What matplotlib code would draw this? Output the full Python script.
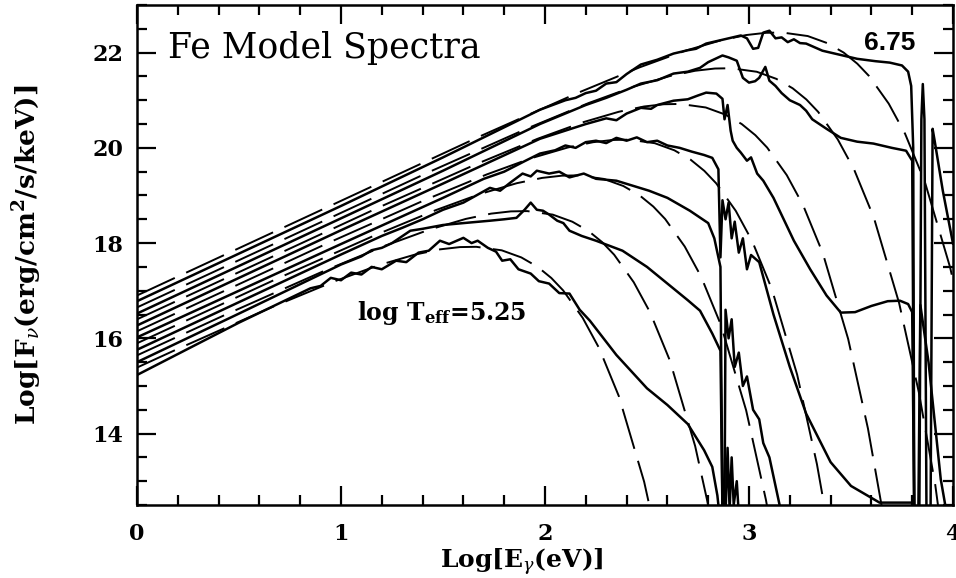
import numpy as np
import matplotlib
matplotlib.use('Agg')
import matplotlib.pyplot as plt
from matplotlib.ticker import MultipleLocator

# blackbody curves (dashed), log T = 5.25 ... 6.75
bb_525 = np.array([(0, 15.386), (0.185, 15.749), (0.663, 16.658), (0.964, 17.191), (1.185, 17.536),
                   (1.362, 17.758), (1.486, 17.869), (1.583, 17.916), (1.663, 17.922), (1.788, 17.848),
                   (1.884, 17.699), (1.964, 17.501), (2.031, 17.267), (2.089, 17.006), (2.185, 16.428),
                   (2.265, 15.797), (2.362, 14.785), (2.486, 12.988), (2.583, 11.108)])
bb_550 = np.array([(0, 15.642), (0.435, 16.499), (0.913, 17.408), (1.214, 17.941), (1.435, 18.286),
                   (1.612, 18.508), (1.736, 18.619), (1.833, 18.666), (1.913, 18.672), (2.038, 18.598),
                   (2.134, 18.449), (2.214, 18.251), (2.281, 18.017), (2.339, 17.756), (2.435, 17.178),
                   (2.515, 16.547), (2.612, 15.535), (2.736, 13.738), (2.833, 11.858)])
bb_575 = np.array([(0, 15.896), (0.685, 17.249), (1.163, 18.158), (1.464, 18.691), (1.685, 19.036),
                   (1.862, 19.258), (1.986, 19.369), (2.083, 19.416), (2.163, 19.422), (2.288, 19.348),
                   (2.384, 19.199), (2.464, 19.001), (2.531, 18.767), (2.589, 18.506), (2.685, 17.928),
                   (2.765, 17.297), (2.862, 16.285), (2.986, 14.488), (3.083, 12.608), (3.163, 10.673)])
bb_600 = np.array([(0, 16.148), (0.935, 17.999), (1.413, 18.908), (1.714, 19.441), (1.935, 19.786),
                   (2.112, 20.008), (2.236, 20.119), (2.333, 20.166), (2.413, 20.172), (2.538, 20.098),
                   (2.634, 19.949), (2.714, 19.751), (2.781, 19.517), (2.839, 19.256), (2.935, 18.678),
                   (3.015, 18.047), (3.112, 17.035), (3.236, 15.238), (3.333, 13.358), (3.413, 11.423)])
bb_625 = np.array([(0, 16.399), (1.185, 18.749), (1.663, 19.658), (1.964, 20.191), (2.185, 20.536),
                   (2.362, 20.758), (2.486, 20.869), (2.583, 20.916), (2.663, 20.922), (2.788, 20.848),
                   (2.884, 20.699), (2.964, 20.501), (3.031, 20.267), (3.089, 20.006), (3.185, 19.428),
                   (3.265, 18.797), (3.362, 17.785), (3.486, 15.988), (3.583, 14.108), (3.663, 12.173)])
bb_650 = np.array([(0, 16.649), (1.435, 19.499), (1.913, 20.408), (2.214, 20.941), (2.435, 21.286),
                   (2.612, 21.508), (2.736, 21.619), (2.833, 21.666), (2.913, 21.672), (3.038, 21.598),
                   (3.134, 21.449), (3.214, 21.251), (3.281, 21.017), (3.339, 20.756), (3.435, 20.178),
                   (3.515, 19.547), (3.612, 18.535), (3.736, 16.738), (3.833, 14.858), (3.913, 12.923),
                   (4.037, 8.955)])
bb_675 = np.array([(0, 16.900), (1.685, 20.249), (2.163, 21.158), (2.464, 21.691), (2.685, 22.036),
                   (2.862, 22.258), (2.986, 22.369), (3.083, 22.416), (3.163, 22.422), (3.288, 22.348),
                   (3.384, 22.199), (3.464, 22.001), (3.531, 21.767), (3.589, 21.506), (3.685, 20.928),
                   (3.765, 20.297), (3.862, 19.285), (3.986, 17.488), (4.083, 15.608)])

# Fe model spectra (solid)
fe_525 = np.array([(0, 15.23), (0.5, 16.33), (0.85, 17.05), (0.9, 17.1), (0.95, 17.27), (1.0, 17.22),
                   (1.05, 17.38), (1.1, 17.34), (1.15, 17.5), (1.2, 17.45), (1.27, 17.63), (1.32, 17.6),
                   (1.38, 17.8), (1.43, 17.84), (1.485, 18.05), (1.53, 17.98), (1.6, 18.11), (1.64, 18.0),
                   (1.67, 18.05), (1.72, 17.9), (1.76, 17.82), (1.79, 17.63), (1.83, 17.66), (1.87, 17.45),
                   (1.93, 17.36), (1.97, 17.2), (2.02, 17.15), (2.07, 16.95), (2.12, 16.94), (2.17, 16.6),
                   (2.22, 16.37), (2.35, 15.65), (2.5, 14.95), (2.6, 14.6), (2.7, 14.2), (2.78, 13.65),
                   (2.82, 13.3), (2.845, 12.7), (2.855, 12.3)])
fe_550 = np.array([(0, 15.5), (0.5, 16.52), (1.0, 17.55), (1.1, 17.72), (1.15, 17.85), (1.2, 17.9),
                   (1.25, 18.0), (1.34, 18.26), (1.4, 18.3), (1.5, 18.38), (1.6, 18.42), (1.73, 18.47),
                   (1.8, 18.5), (1.86, 18.53), (1.9, 18.7), (1.93, 18.85), (1.96, 18.7), (1.99, 18.68),
                   (2.02, 18.6), (2.06, 18.47), (2.09, 18.42), (2.12, 18.26), (2.18, 18.15), (2.25, 18.05),
                   (2.38, 17.84), (2.5, 17.5), (2.6, 17.15), (2.7, 16.8), (2.76, 16.58), (2.82, 16.1),
                   (2.86, 15.74), (2.87, 12.3), (2.885, 12.3), (2.895, 13.7), (2.905, 12.4), (2.915, 13.5),
                   (2.925, 12.5), (2.94, 13.0), (2.95, 12.3)])
fe_575 = np.array([(0, 15.76), (0.5, 16.76), (1.0, 17.76), (1.2, 18.15), (1.3, 18.32), (1.4, 18.5),
                   (1.5, 18.7), (1.6, 18.85), (1.73, 19.16), (1.78, 19.1), (1.83, 19.27), (1.89, 19.46),
                   (1.93, 19.4), (1.96, 19.52), (2.02, 19.46), (2.07, 19.5), (2.12, 19.38), (2.19, 19.46),
                   (2.25, 19.35), (2.35, 19.31), (2.51, 19.1), (2.6, 18.95), (2.71, 18.68), (2.8, 18.42),
                   (2.83, 18.1), (2.86, 17.5), (2.87, 12.3), (2.88, 12.3), (2.885, 16.6), (2.9, 16.0),
                   (2.915, 16.4), (2.93, 15.4), (2.95, 15.7), (2.97, 15.0), (2.99, 15.2), (3.02, 14.5),
                   (3.05, 14.3), (3.07, 13.8), (3.1, 13.5), (3.13, 12.9), (3.16, 12.3)])
fe_600 = np.array([(0, 16.02), (0.5, 17.0), (1.0, 17.98), (1.5, 18.95), (1.7, 19.35), (1.8, 19.5),
                   (1.9, 19.72), (1.975, 19.88), (2.05, 19.95), (2.1, 20.05), (2.15, 20.0), (2.2, 20.12),
                   (2.25, 20.15), (2.3, 20.1), (2.35, 20.21), (2.4, 20.15), (2.45, 20.22), (2.5, 20.12),
                   (2.55, 20.15), (2.6, 20.05), (2.66, 20.0), (2.72, 19.92), (2.78, 19.85), (2.82, 19.79),
                   (2.85, 19.55), (2.86, 17.7), (2.87, 18.9), (2.885, 18.5), (2.9, 18.85), (2.915, 18.1),
                   (2.93, 18.45), (2.95, 17.8), (2.97, 18.1), (2.99, 17.45), (3.01, 17.75), (3.05, 17.6),
                   (3.12, 16.5), (3.2, 15.4), (3.28, 14.42), (3.4, 13.4), (3.5, 12.9), (3.64, 12.55),
                   (3.72, 12.55), (3.8, 12.55), (3.81, 12.3)])
fe_625 = np.array([(0, 16.27), (0.5, 17.27), (1.0, 18.27), (1.5, 19.25), (1.975, 20.19), (2.2, 20.5),
                   (2.3, 20.62), (2.35, 20.58), (2.4, 20.72), (2.47, 20.84), (2.52, 20.82), (2.55, 20.9),
                   (2.63, 20.99), (2.7, 21.02), (2.75, 21.1), (2.79, 21.16), (2.84, 21.14), (2.87, 21.03),
                   (2.88, 20.6), (2.895, 20.9), (2.91, 20.36), (2.92, 20.15), (2.94, 20.0), (2.96, 19.9),
                   (2.99, 19.73), (3.01, 19.8), (3.04, 19.46), (3.07, 19.31), (3.12, 18.95), (3.17, 18.5),
                   (3.22, 18.05), (3.3, 17.45), (3.38, 16.9), (3.45, 16.54), (3.52, 16.55), (3.6, 16.68),
                   (3.68, 16.78), (3.74, 16.79), (3.78, 16.72), (3.8, 16.55), (3.81, 12.3)])
fe_650 = np.array([(0, 16.52), (0.5, 17.52), (1.0, 18.52), (1.5, 19.52), (1.975, 20.5), (2.2, 20.9),
                   (2.3, 21.05), (2.4, 21.22), (2.47, 21.35), (2.55, 21.42), (2.63, 21.56), (2.7, 21.6),
                   (2.76, 21.68), (2.8, 21.8), (2.84, 21.88), (2.87, 21.94), (2.9, 21.9), (2.94, 21.83),
                   (2.97, 21.47), (3.0, 21.37), (3.03, 21.4), (3.05, 21.47), (3.08, 21.7), (3.1, 21.41),
                   (3.13, 21.3), (3.16, 21.15), (3.2, 21.0), (3.25, 20.9), (3.28, 20.78), (3.31, 20.6),
                   (3.38, 20.4), (3.45, 20.21), (3.53, 20.13), (3.61, 20.09), (3.7, 20.0), (3.77, 19.94),
                   (3.8, 19.73), (3.81, 12.3), (3.83, 12.3), (3.84, 16.7), (3.88, 15.5), (3.94, 13.04),
                   (3.97, 12.3)])
fe_675 = np.array([(0, 16.78), (0.5, 17.78), (1.0, 18.78), (1.5, 19.8), (1.975, 20.8), (2.1, 21.0),
                   (2.15, 21.05), (2.2, 21.15), (2.25, 21.2), (2.3, 21.35), (2.35, 21.38), (2.4, 21.55),
                   (2.47, 21.75), (2.55, 21.85), (2.63, 21.98), (2.7, 22.05), (2.74, 22.08), (2.79, 22.19),
                   (2.85, 22.25), (2.9, 22.3), (2.96, 22.36), (2.99, 22.3), (3.02, 22.08), (3.045, 22.1),
                   (3.07, 22.42), (3.1, 22.46), (3.13, 22.3), (3.16, 22.32), (3.19, 22.22), (3.22, 22.28),
                   (3.25, 22.2), (3.28, 22.19), (3.36, 22.04), (3.45, 21.95), (3.53, 21.87), (3.62, 21.82),
                   (3.69, 21.79), (3.75, 21.73), (3.78, 21.6), (3.795, 21.3), (3.805, 20.0), (3.81, 12.3),
                   (3.835, 12.3), (3.845, 20.6), (3.852, 21.34), (3.86, 20.6), (3.87, 12.3), (3.89, 12.3),
                   (3.9, 20.4), (3.91, 20.15), (3.95, 19.1), (4.0, 17.99)])

blackbodies = [bb_525, bb_550, bb_575, bb_600, bb_625, bb_650, bb_675]
models = [fe_525, fe_550, fe_575, fe_600, fe_625, fe_650, fe_675]

plt.rcParams['font.family'] = 'DejaVu Serif'
plt.rcParams['mathtext.fontset'] = 'dejavuserif'
plt.rcParams['lines.scale_dashes'] = False

fig = plt.figure(figsize=(9.56, 5.78), dpi=100)
ax = fig.add_axes([137 / 956, 1 - 505 / 578, 816 / 956, 500 / 578])

for bb in blackbodies:
    ax.plot(bb[:, 0], bb[:, 1], color='k', lw=1.4, dashes=(30, 9))
for m in models:
    ax.plot(m[:, 0], m[:, 1], color='k', lw=1.8, solid_joinstyle='round')

ax.set_xlim(0, 4)
ax.set_ylim(12.5, 23)
ax.set_xticks([0, 1, 2, 3, 4])
ax.set_yticks([14, 16, 18, 20, 22])
ax.xaxis.set_minor_locator(MultipleLocator(0.2))
ax.yaxis.set_minor_locator(MultipleLocator(0.5))
ax.tick_params(which='both', direction='in', top=True, right=True, width=1.6)
ax.tick_params(which='major', length=14)
ax.tick_params(which='minor', length=7)
ax.tick_params(axis='x', pad=13)
ax.tick_params(axis='y', pad=10)
for lab in ax.get_xticklabels() + ax.get_yticklabels():
    lab.set_fontsize(16)
    lab.set_fontweight('bold')
for sp in ax.spines.values():
    sp.set_linewidth(1.8)

ax.set_xlabel(r'Log[E$_{\gamma}$(eV)]', fontsize=18, fontweight='bold')
ax.xaxis.set_label_coords(0.472, -0.114)
ax.xaxis.label.set_va('center')
ax.set_ylabel(r'Log[F$_{\nu}$(erg/cm$^{\mathbf{2}}$/s/keV)]', fontsize=19, fontweight='bold')
ax.yaxis.set_label_coords(-0.134, 0.5)
ax.yaxis.label.set_va('center')

ax.text(0.152, 22.1, 'Fe Model Spectra', fontsize=25, va='center', ha='left')
ax.text(1.078, 16.54, r'log T$_{\mathbf{eff}}$=5.25', fontsize=17, fontweight='bold',
        va='center', ha='left')
ax.text(3.69, 22.21, '6.75', fontsize=19, fontweight='bold', family='Liberation Sans',
        va='center', ha='center')

fig.savefig('out.png', dpi=100)
